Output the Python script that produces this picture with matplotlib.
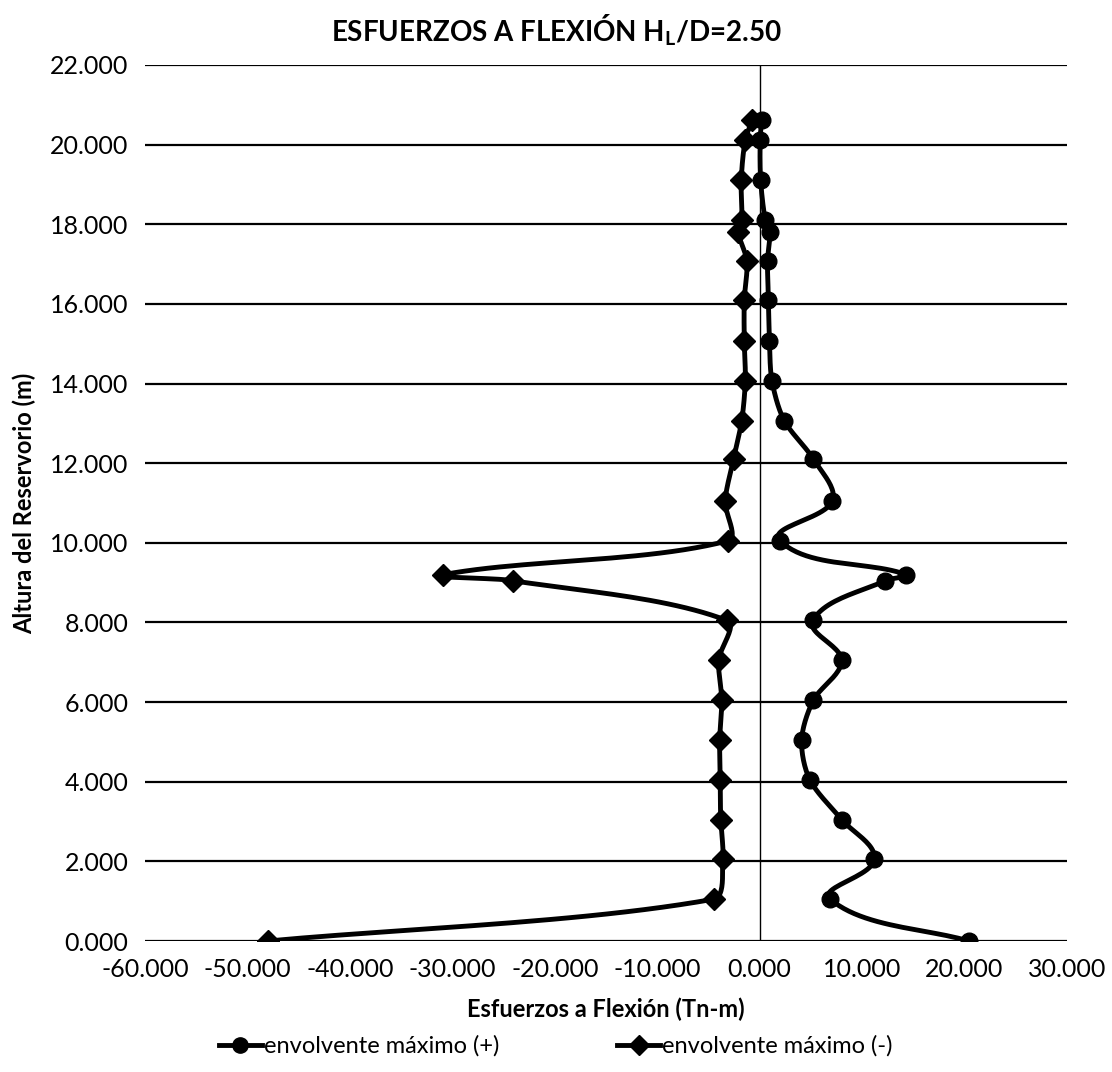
import matplotlib.pyplot as plt
import numpy as np

plt.rcParams['font.family'] = ['Lato', 'DejaVu Sans']
plt.rcParams['mathtext.fontset'] = 'custom'
plt.rcParams['mathtext.rm'] = 'Lato:bold'

# alturas (m) de los puntos
altura = [0.0, 1.05, 2.05, 3.05, 4.05, 5.05, 6.05, 7.05, 8.05, 9.05, 9.2, 10.05,
          11.05, 12.1, 13.07, 14.07, 15.07, 16.1, 17.08, 17.8, 18.1, 19.1, 20.12, 20.62]
# envolvente maximo (+)
env_pos = [20.4, 6.9, 11.2, 8.0, 4.9, 4.1, 5.25, 8.0, 5.2, 12.25, 14.3, 2.0,
           7.1, 5.25, 2.4, 1.2, 0.96, 0.86, 0.77, 1.0, 0.55, 0.1, 0.05, 0.2]
# envolvente maximo (-)
env_neg = [-48.0, -4.5, -3.6, -3.8, -3.85, -3.9, -3.7, -4.0, -3.2, -24.1, -30.9, -3.1,
           -3.37, -2.55, -1.75, -1.4, -1.5, -1.5, -1.25, -2.1, -1.75, -1.8, -1.4, -0.7]

x_ticks = [-60, -50, -40, -30, -20, -10, 0, 10, 20, 30]
y_ticks = [0, 2, 4, 6, 8, 10, 12, 14, 16, 18, 20, 22]


def suave(x, y, n=24):
    # curva suavizada tipo Excel, trabajada en escala de pixeles
    sx, sy = 922 / 90.0, 876 / 22.0
    p = np.column_stack([np.array(x) * sx, np.array(y) * sy])
    m = len(p)
    tang = np.zeros_like(p)
    for i in range(m):
        a = p[max(i - 1, 0)]
        b = p[min(i + 1, m - 1)]
        d = b - a
        tang[i] = d / (np.hypot(*d) + 1e-9)
    out = []
    t = np.linspace(0, 1, n, endpoint=False)[:, None]
    for i in range(m - 1):
        p1, p2 = p[i], p[i + 1]
        L = np.hypot(*(p2 - p1))
        c1 = p1 + tang[i] * L * 0.3
        c2 = p2 - tang[i + 1] * L * 0.3
        b = ((1 - t) ** 3) * p1 + 3 * ((1 - t) ** 2) * t * c1 + 3 * (1 - t) * t ** 2 * c2 + t ** 3 * p2
        out.append(b)
    out.append(p[-1][None, :])
    out = np.vstack(out)
    return out[:, 0] / sx, out[:, 1] / sy


fig = plt.figure(figsize=(11.12, 10.72), dpi=100)
ax = fig.add_axes([0.1304, 0.1222, 0.8291, 0.8172])

for v in y_ticks:
    ax.axhline(v, color='black', lw=1.6, zorder=1)
ax.axvline(0, color='black', lw=1.0, zorder=1)

xs, ys = suave(env_pos, altura)
ax.plot(xs, ys, color='black', lw=3.5, zorder=3, solid_capstyle='round')
ax.plot(env_pos, altura, 'o', color='black', ms=12, zorder=4)
xs, ys = suave(env_neg, altura)
ax.plot(xs, ys, color='black', lw=3.5, zorder=3, solid_capstyle='round')
ax.plot(env_neg, altura, 'D', color='black', ms=11, zorder=4)

ax.set_xlim(-60, 30)
ax.set_ylim(0, 22)
ax.set_xticks(x_ticks)
ax.set_yticks(y_ticks)
ax.set_xticklabels(['%.3f' % v for v in x_ticks], fontsize=18)
ax.set_yticklabels(['%.3f' % v for v in y_ticks], fontsize=18)
ax.tick_params(length=0, pad=12)
for s in ax.spines.values():
    s.set_visible(False)

ax.set_xlabel('Esfuerzos a Flexión (Tn-m)', fontsize=17, fontweight='bold', labelpad=12)
ax.set_ylabel('Altura del Reservorio (m)', fontsize=17, fontweight='bold', labelpad=10)
fig.text(0.5, 0.972, r'ESFUERZOS A FLEXIÓN H$_\mathrm{L}$/D=2.50', ha='center', va='center',
         fontsize=20, fontweight='bold')

h1, = ax.plot([], [], '-o', color='black', lw=3.5, ms=11)
h2, = ax.plot([], [], '-D', color='black', lw=3.5, ms=10)
fig.legend([h1, h2], ['envolvente máximo (+)', 'envolvente máximo (-)'], loc='center',
           bbox_to_anchor=(0.5, 0.024), ncol=2, frameon=False, fontsize=17,
           handlelength=1.8, handletextpad=0.1, columnspacing=5)

fig.savefig('out.png', dpi=100)
